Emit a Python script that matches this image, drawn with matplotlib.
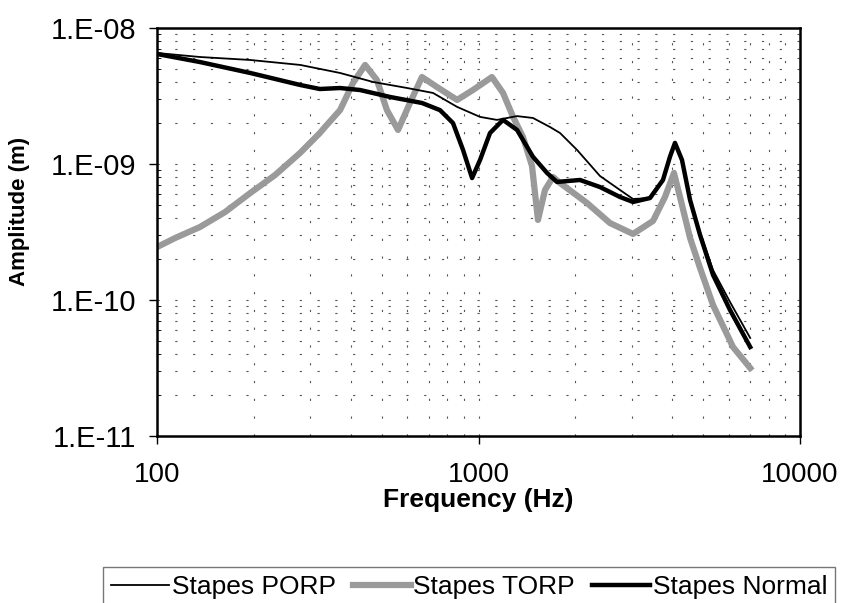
import matplotlib
matplotlib.use("Agg")
import matplotlib.pyplot as plt
from matplotlib.ticker import LogLocator, NullFormatter, FixedLocator

plt.rcParams['font.family'] = ['Liberation Sans', 'DejaVu Sans']

# Stapes PORP (thin black)
porp_f = [100, 136, 195, 279, 371, 470, 600, 722, 858, 1011, 1141, 1318, 1477, 1669, 1793,
          2025, 2387, 2755, 3024, 3415, 3748, 3940, 4084, 4295, 4550, 4887, 5363, 6058, 7000]
porp_a = [6.55e-9, 6.12e-9, 5.82e-9, 5.35e-9, 4.67e-9, 4.01e-9, 3.62e-9, 3.33e-9, 2.63e-9,
          2.22e-9, 2.11e-9, 2.25e-9, 2.18e-9, 1.87e-9, 1.69e-9, 1.27e-9, 8.16e-10, 6.44e-10,
          5.53e-10, 5.62e-10, 7.63e-10, 1.13e-9, 1.43e-9, 1.11e-9, 5.44e-10, 3.16e-10,
          1.66e-10, 9.67e-11, 5.26e-11]

# Stapes TORP (thick grey)
torp_f = [100, 114, 136, 163, 195, 233, 279, 321, 333, 371, 407, 444, 483, 519, 562, 612,
          667, 743, 858, 961, 1101, 1192, 1281, 1375, 1467, 1531, 1610, 1705, 1793, 2175,
          2564, 3024, 3489, 3802, 4055, 4234, 4550, 4887, 5363, 6190, 7000]
torp_a = [2.45e-10, 2.86e-10, 3.44e-10, 4.44e-10, 6.12e-10, 8.3e-10, 1.21e-9, 1.69e-9,
          1.87e-9, 2.49e-9, 3.94e-9, 5.35e-9, 4.15e-9, 2.49e-9, 1.78e-9, 2.81e-9, 4.36e-9,
          3.68e-9, 2.96e-9, 3.5e-9, 4.36e-9, 3.33e-9, 2.22e-9, 1.58e-9, 9.67e-10, 3.88e-10,
          6.44e-10, 8.02e-10, 7.25e-10, 5.17e-10, 3.68e-10, 3.06e-10, 3.81e-10, 5.72e-10,
          8.59e-10, 5.72e-10, 2.86e-10, 1.72e-10, 9.19e-11, 4.51e-11, 3.16e-11]

# Stapes Normal (thick black)
norm_f = [100, 136, 195, 279, 321, 371, 428, 531, 667, 759, 833, 895, 955, 1011, 1086,
          1192, 1318, 1477, 1634, 1754, 2069, 2387, 2755, 3024, 3415, 3748, 3940, 4084,
          4295, 4550, 4887, 5363, 6058, 7000]
norm_a = [6.44e-9, 5.62e-9, 4.67e-9, 3.81e-9, 3.56e-9, 3.62e-9, 3.5e-9, 3.11e-9, 2.81e-9,
          2.49e-9, 2.0e-9, 1.27e-9, 7.88e-10, 1.07e-9, 1.69e-9, 2.11e-9, 1.78e-9, 1.13e-9,
          8.59e-10, 7.38e-10, 7.63e-10, 6.77e-10, 5.72e-10, 5.26e-10, 5.62e-10, 7.63e-10,
          1.13e-9, 1.43e-9, 1.07e-9, 5.44e-10, 3.01e-10, 1.53e-10, 8.44e-11, 4.51e-11]

x_ticks = [100, 1000, 10000]
x_labels = ["100", "1000", "10000"]
y_ticks = [1e-11, 1e-10, 1e-9, 1e-8]
y_labels = ["1.E-11", "1.E-10", "1.E-09", "1.E-08"]

fig = plt.figure(figsize=(8.42, 6.03), dpi=100)
ax = fig.add_axes([157/842, 1-436/603, (800-157)/842, (436-28)/603])

ax.plot(porp_f, porp_a, color='black', lw=1.3, label='Stapes PORP', zorder=3,
        solid_joinstyle='round')
ax.plot(torp_f, torp_a, color='#9a9a9a', lw=4.5, label='Stapes TORP', zorder=2,
        solid_joinstyle='round')
ax.plot(norm_f, norm_a, color='black', lw=3.2, label='Stapes Normal', zorder=4,
        solid_joinstyle='round')

ax.set_xscale('log')
ax.set_yscale('log')
ax.set_xlim(100, 10000)
ax.set_ylim(1e-11, 1e-8)

ax.xaxis.set_major_locator(FixedLocator(x_ticks))
ax.set_xticklabels(x_labels)
ax.yaxis.set_major_locator(FixedLocator(y_ticks))
ax.set_yticklabels(y_labels)
ax.xaxis.set_minor_locator(LogLocator(base=10, subs=range(2, 10)))
ax.yaxis.set_minor_locator(LogLocator(base=10, subs=range(2, 10)))
ax.xaxis.set_minor_formatter(NullFormatter())
ax.yaxis.set_minor_formatter(NullFormatter())

ax.tick_params(axis='x', which='major', labelsize=20, length=6, width=1, direction='out', pad=13)
ax.tick_params(axis='y', which='major', labelsize=21, length=6, width=1, direction='out', pad=9)
ax.tick_params(axis='x', which='minor', length=0)
ax.tick_params(axis='y', which='minor', length=3, direction='in')

ax.grid(True, which='both', color='#555555', lw=0.8, linestyle=(0, (2, 14)))
for s in ax.spines.values():
    s.set_linewidth(1.8)
    s.set_color('black')

ax.set_xlabel('Frequency (Hz)', fontsize=19, fontweight='bold', labelpad=0)
ax.set_ylabel('Amplitude (m)', fontsize=16, fontweight='bold')
ax.yaxis.set_label_coords(-0.197, 0.55)

leg = fig.legend(loc='upper left', bbox_to_anchor=(103/842, 1-567/603), ncol=3,
                 fontsize=19, frameon=True, fancybox=False, edgecolor='#555555',
                 handlelength=2.2, handletextpad=0.1, columnspacing=0.65,
                 borderpad=0.3, borderaxespad=0)
leg.get_frame().set_linewidth(1.0)

fig.savefig('out.png', dpi=100)
